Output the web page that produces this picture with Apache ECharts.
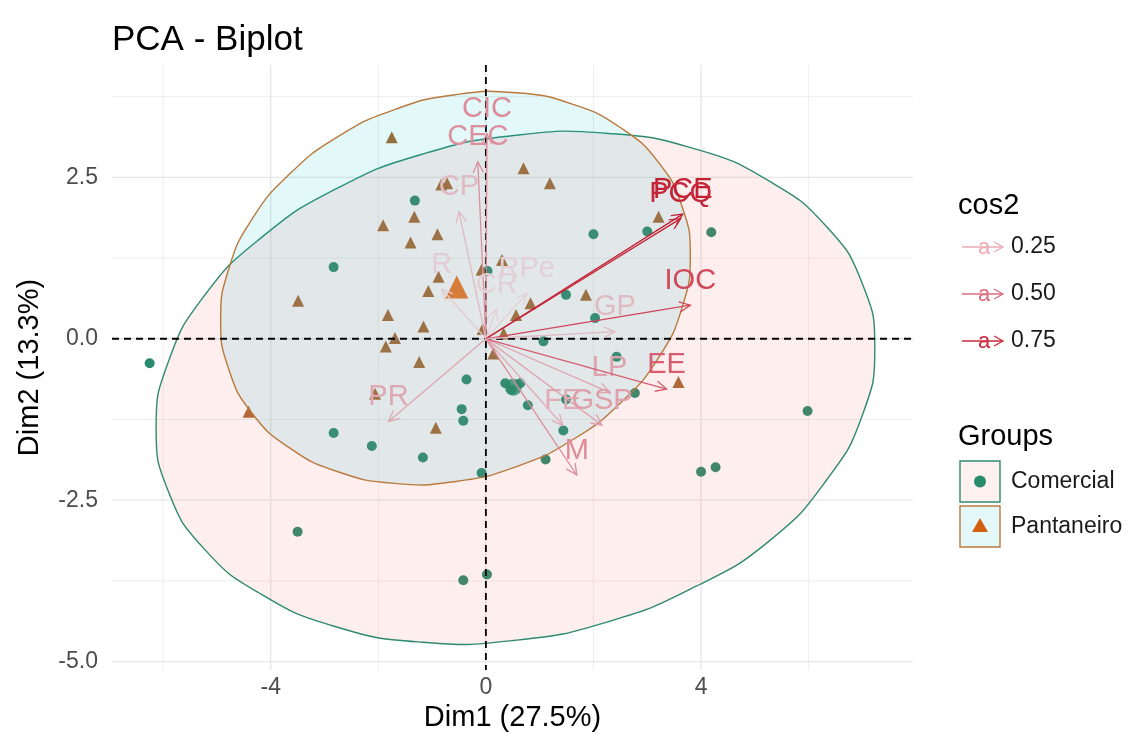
<!DOCTYPE html>
<html><head><meta charset="utf-8">
<script src="https://cdn.jsdelivr.net/npm/echarts@6/dist/echarts.min.js"></script>
<style>html,body{margin:0;padding:0;background:#fff}#chart{width:1141px;height:749px}</style>
</head><body><div id="chart"></div>
<script>
// ---------- data ----------
const xTicks = [-4, 0, 4];
const xMinorTicks = [-6, -2, 2, 6];
const yTicks = [-5, -2.5, 0, 2.5];
const yMinorTicks = [-3.75, -1.25, 1.25, 3.75];

const groupNames = ['Comercial', 'Pantaneiro'];

const comercialPoints = [
  [-6.25,-0.38],[-1.32,2.14],[-2.83,1.11],[0.03,1.05],[-0.36,-0.63],[-0.45,-1.09],
  [-0.42,-1.27],[-2.83,-1.46],[-2.12,-1.66],[-1.17,-1.84],[-0.08,-2.08],[-3.50,-2.99],
  [-0.42,-3.74],[0.02,-3.65],[2.00,1.62],[3.00,1.66],[4.19,1.65],[1.49,0.68],
  [2.03,0.32],[1.07,-0.04],[2.43,-0.28],[0.36,-0.69],[0.64,-0.69],[0.48,-0.79],
  [0.78,-1.03],[1.49,-0.94],[2.77,-0.84],[1.44,-1.42],[1.11,-1.87],[5.98,-1.12],
  [4.00,-2.06],[4.27,-1.99]
];
const pantaneiroPoints = [
  [-1.75,3.12],[-0.83,2.39],[-0.72,2.41],[-1.33,1.89],[-1.91,1.76],[-0.90,1.62],
  [-1.40,1.49],[-0.88,0.96],[-1.07,0.74],[-3.49,0.59],[-1.82,0.37],[-1.16,0.19],
  [-1.69,0.01],[-1.86,-0.12],[-0.08,1.07],[-0.06,0.15],[0.14,-0.23],[-1.24,-0.36],
  [-2.06,-0.85],[-4.41,-1.13],[-0.93,-1.38],[0.70,2.64],[1.19,2.41],[3.21,1.89],
  [0.30,1.22],[1.86,0.68],[0.83,0.55],[0.56,0.37],[3.58,-0.67],[0.33,0.08]
];
const comercialMean = [[0.51, -0.75]];
const pantaneiroMean = [[-0.54, 0.80]];

// ellipse outlines (clockwise from the right)
const comercialEllipse = [
  [7.23,-0.14],[7.00,0.85],[6.34,1.73],[5.27,2.44],[3.89,2.94],[2.28,3.18],
  [0.55,3.15],[-1.18,2.86],[-2.79,2.32],[-4.17,1.57],[-5.24,0.66],[-5.90,-0.35],
  [-6.13,-1.38],[-5.90,-2.37],[-5.24,-3.25],[-4.17,-3.96],[-2.79,-4.46],[-1.18,-4.70],
  [0.55,-4.67],[2.28,-4.38],[3.89,-3.84],[5.27,-3.13],[6.34,-2.18],[7.00,-1.18]
];
const pantaneiroEllipse = [
  [3.80,1.29],[3.65,2.04],[3.22,2.72],[2.52,3.26],[1.62,3.63],[0.57,3.81],
  [-0.57,3.78],[-1.70,3.55],[-2.75,3.13],[-3.65,2.55],[-4.35,1.85],[-4.78,1.08],
  [-4.93,0.29],[-4.78,-0.47],[-4.35,-1.15],[-3.65,-1.69],[-2.75,-2.06],[-1.70,-2.24],
  [-0.56,-2.21],[0.57,-1.98],[1.62,-1.56],[2.52,-0.98],[3.22,-0.28],[3.65,0.49]
];

const varNames = ['CIC','CEC','CP','R','RPe','CR','PCE','PCQ','IOC','GP','LP','EE','FE','GSP','M','PR'];
const varX    = [0.02,-0.15,-0.50,-0.82,0.76,0.20,3.66,3.62,3.80,2.40,2.30,3.36,1.43,2.16,1.69,-1.81];
const varY    = [3.18, 2.74, 1.97, 0.77,0.70,0.46,1.93,1.86,0.52,0.11,-0.83,-0.78,-1.34,-1.34,-2.11,-1.28];
const varCos2 = [0.40,0.38,0.20,0.12,0.10,0.10,0.80,0.78,0.66,0.20,0.30,0.58,0.26,0.32,0.40,0.28];

const cos2Breaks = ['0.25', '0.50', '0.75'];

// ---------- chart ----------
const FONT = '"Liberation Sans", Arial, sans-serif';
const chart = echarts.init(document.getElementById('chart'));

function vLines(color, width) {
  return function (params, api) {
    const cs = params.coordSys;
    const p = api.coord([api.value(0), 0]);
    return {type: 'line', shape: {x1: p[0], y1: cs.y, x2: p[0], y2: cs.y + cs.height},
            style: {stroke: color, lineWidth: width}};
  };
}
function hLines(color, width) {
  return function (params, api) {
    const cs = params.coordSys;
    const p = api.coord([0, api.value(1)]);
    return {type: 'line', shape: {x1: cs.x, y1: p[1], x2: cs.x + cs.width, y2: p[1]},
            style: {stroke: color, lineWidth: width}};
  };
}
function ellipseSeries(pts, fill, stroke) {
  return {
    type: 'custom', silent: true, z: 4, data: [[0, 0]],
    renderItem: function (params, api) {
      return {type: 'polygon', shape: {points: pts.map(p => api.coord(p)), smooth: 0.5},
              style: {fill: fill, stroke: stroke, lineWidth: 1.4}};
    }
  };
}

const arrowSeries = {
  type: 'custom', silent: true, z: 7,
  data: varNames.map((n, i) => ({name: n, value: [varX[i], varY[i], varCos2[i]]})),
  renderItem: function (params, api) {
    const o = api.coord([0, 0]);
    const t = api.coord([api.value(0), api.value(1)]);
    const col = api.visual('color');
    const ang = Math.atan2(t[1] - o[1], t[0] - o[0]);
    const L = 12, A = Math.PI / 7;
    const h1 = [t[0] - L * Math.cos(ang - A), t[1] - L * Math.sin(ang - A)];
    const h2 = [t[0] - L * Math.cos(ang + A), t[1] - L * Math.sin(ang + A)];
    return {type: 'group', children: [
      {type: 'line', shape: {x1: o[0], y1: o[1], x2: t[0], y2: t[1]}, style: {stroke: col, lineWidth: 1.3}},
      {type: 'polyline', shape: {points: [h1, t, h2]}, style: {stroke: col, lineWidth: 1.3, fill: 'none'}},
      {type: 'text', style: {text: varNames[params.dataIndex], x: t[0], y: t[1] - 10,
        textAlign: 'center', textVerticalAlign: 'bottom', align: 'center', verticalAlign: 'bottom',
        fill: col, font: '29px ' + FONT}}
    ]};
  }
};

const series = [
  {type: 'custom', silent: true, z: 1, data: xMinorTicks.map(v => [v, 0]), renderItem: vLines('#EEEEEE', 1)},
  {type: 'custom', silent: true, z: 1, data: yMinorTicks.map(v => [0, v]), renderItem: hLines('#EEEEEE', 1)},
  {type: 'custom', silent: true, z: 1, data: xTicks.map(v => [v, 0]), renderItem: vLines('#E6E6E6', 1.3)},
  {type: 'custom', silent: true, z: 1, data: yTicks.map(v => [0, v]), renderItem: hLines('#E6E6E6', 1.3)},
  {name: groupNames[0], type: 'scatter', silent: true, z: 3, data: comercialPoints,
   symbol: 'circle', symbolSize: 10, itemStyle: {color: '#2A8A6C', opacity: 1}},
  {name: groupNames[1], type: 'scatter', silent: true, z: 3, data: pantaneiroPoints,
   symbol: 'triangle', symbolSize: 12, itemStyle: {color: '#A8672F', opacity: 1}},
  ellipseSeries(comercialEllipse, 'rgba(248,118,109,0.12)', '#2E8A70'),
  ellipseSeries(pantaneiroEllipse, 'rgba(0,191,196,0.11)', '#B97A3E'),
  {type: 'custom', silent: true, z: 5, data: [[0, 0]],
   renderItem: function (params, api) {
     const cs = params.coordSys; const p = api.coord([0, 0]);
     const st = {stroke: '#000', lineWidth: 1.8, lineDash: [7, 5]};
     return {type: 'group', children: [
       {type: 'line', shape: {x1: p[0], y1: cs.y, x2: p[0], y2: cs.y + cs.height}, style: st},
       {type: 'line', shape: {x1: cs.x, y1: p[1], x2: cs.x + cs.width, y2: p[1]}, style: st}
     ]};
   }},
  {type: 'scatter', silent: true, z: 6, data: comercialMean, symbol: 'circle', symbolSize: 17,
   itemStyle: {color: '#2A8A6C'}},
  {type: 'scatter', silent: true, z: 6, data: pantaneiroMean, symbol: 'triangle', symbolSize: 23,
   itemStyle: {color: '#D2600F'}},
  arrowSeries
];

function keyArrow(y, col) {
  return [
    {type: 'line', shape: {x1: 962, y1: y, x2: 1003, y2: y}, style: {stroke: col, lineWidth: 1.3}},
    {type: 'polyline', shape: {points: [[994, y - 5], [1003, y], [994, y + 5]]}, style: {stroke: col, lineWidth: 1.3, fill: 'none'}},
    {type: 'text', style: {text: 'a', x: 984, y: y + 1, textAlign: 'center', textVerticalAlign: 'middle', align: 'center', verticalAlign: 'middle', fill: col, font: '22px ' + FONT}}
  ];
}
const keyCols = ['#EBAAB5', '#DC6D80', '#C92A3C'];
let graphics = [
  {type: 'text', style: {text: 'cos2', x: 958, y: 206, verticalAlign: 'middle', textVerticalAlign: 'middle', fill: '#000', font: '29px ' + FONT}}
];
cos2Breaks.forEach((b, i) => {
  const y = 247 + i * 47;
  graphics = graphics.concat(keyArrow(y, keyCols[i]));
  graphics.push({type: 'text', style: {text: b, x: 1011, y: y, verticalAlign: 'middle', textVerticalAlign: 'middle', fill: '#1a1a1a', font: '23px ' + FONT}});
});
graphics.push({type: 'text', style: {text: 'Groups', x: 958, y: 437, verticalAlign: 'middle', textVerticalAlign: 'middle', fill: '#000', font: '29px ' + FONT}});
graphics.push({type: 'rect', shape: {x: 960, y: 461, width: 40, height: 41}, style: {fill: 'rgba(248,118,109,0.10)', stroke: '#2E8A70', lineWidth: 1.4}});
graphics.push({type: 'circle', shape: {cx: 980, cy: 481.5, r: 6}, style: {fill: '#2A8A6C'}});
graphics.push({type: 'rect', shape: {x: 960, y: 506, width: 40, height: 41}, style: {fill: 'rgba(0,191,196,0.10)', stroke: '#B97A3E', lineWidth: 1.4}});
graphics.push({type: 'polygon', shape: {points: [[980, 518], [988, 532], [972, 532]]}, style: {fill: '#D2600F'}});
graphics.push({type: 'text', style: {text: groupNames[0], x: 1011, y: 482, verticalAlign: 'middle', textVerticalAlign: 'middle', fill: '#1a1a1a', font: '23px ' + FONT}});
graphics.push({type: 'text', style: {text: groupNames[1], x: 1011, y: 527, verticalAlign: 'middle', textVerticalAlign: 'middle', fill: '#1a1a1a', font: '23px ' + FONT}});

chart.setOption({
  animation: false,
  backgroundColor: '#fff',
  title: {text: 'PCA - Biplot', left: 112, top: 23, padding: 0,
          textStyle: {fontSize: 35, fontWeight: 'normal', color: '#000', fontFamily: FONT}},
  grid: {left: 112, top: 65, width: 801, height: 605},
  xAxis: {type: 'value', min: -6.95, max: 7.94,
    axisLine: {show: false}, axisTick: {show: false}, splitLine: {show: false},
    axisLabel: {customValues: xTicks, color: '#4D4D4D', fontSize: 23, fontFamily: FONT, margin: 6},
    name: 'Dim1 (27.5%)', nameLocation: 'middle', nameGap: 26,
    nameTextStyle: {fontSize: 29, color: '#000', fontFamily: FONT, verticalAlign: 'top'}},
  yAxis: {type: 'value', min: -5.13, max: 4.24,
    axisLine: {show: false}, axisTick: {show: false}, splitLine: {show: false},
    axisLabel: {customValues: yTicks, formatter: v => Number(v).toFixed(1), color: '#4D4D4D', fontSize: 23, fontFamily: FONT, margin: 14},
    name: 'Dim2 (13.3%)', nameLocation: 'middle', nameGap: 68, nameRotate: 90,
    nameTextStyle: {fontSize: 29, color: '#000', fontFamily: FONT}},
  visualMap: {type: 'continuous', show: false, seriesIndex: series.length - 1, dimension: 2,
    min: 0.1, max: 0.85, inRange: {color: ['#E2D0D5', '#DD98A5', '#D6586B', '#BE1226']}},
  graphic: {elements: graphics},
  series: series
});
</script>
</body></html>
